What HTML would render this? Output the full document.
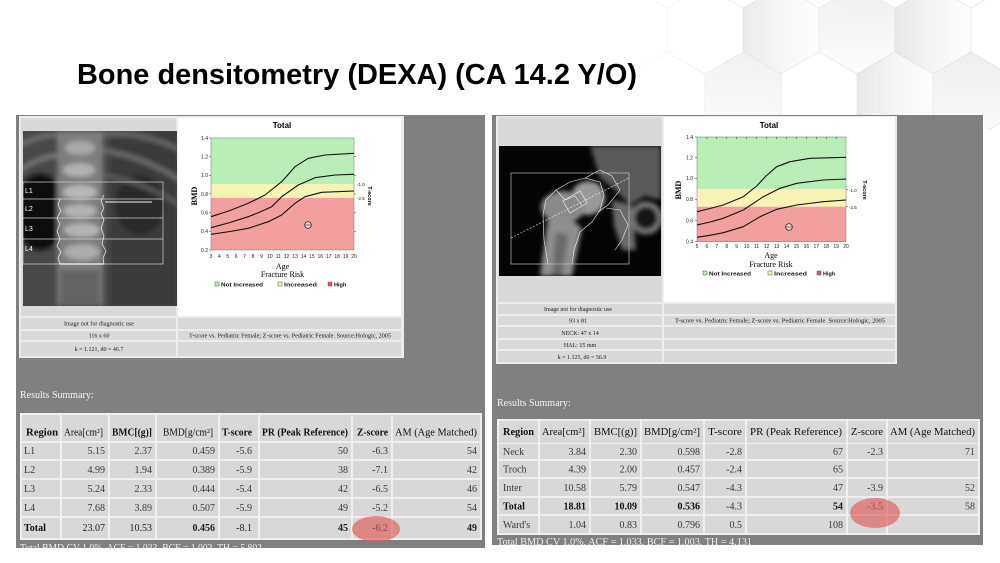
<!DOCTYPE html>
<html><head><meta charset="utf-8"><style>
html,body{margin:0;padding:0;background:#fff;}
svg{display:block;}
.s{font-family:"Liberation Serif",serif;}
.a{font-family:"Liberation Sans",sans-serif;}
</style></head><body>
<svg width="1000" height="563" viewBox="0 0 1000 563" xmlns="http://www.w3.org/2000/svg">
<defs>
<linearGradient id="fadeL" x1="0" y1="0" x2="1" y2="0">
<stop offset="0" stop-color="#fff" stop-opacity="0"/><stop offset="0.3" stop-color="#fff" stop-opacity="0.8"/><stop offset="1" stop-color="#fff" stop-opacity="1"/></linearGradient>
<mask id="hexmask"><rect x="600" y="0" width="400" height="130" fill="url(#fadeL)"/></mask>
<linearGradient id="hg1" x1="0" y1="0" x2="1" y2="0"><stop offset="0" stop-color="#e6e6e6"/><stop offset="0.5" stop-color="#f5f5f5"/><stop offset="1" stop-color="#fdfdfd"/></linearGradient>
<linearGradient id="hg2" x1="0" y1="0" x2="0" y2="1"><stop offset="0" stop-color="#eeeeee"/><stop offset="1" stop-color="#fcfcfc"/></linearGradient>
<filter id="bl" x="-10%" y="-10%" width="120%" height="120%"><feGaussianBlur stdDeviation="2.5"/></filter>
<clipPath id="spc"><rect x="23" y="131" width="154" height="175"/></clipPath>
<clipPath id="hpc"><rect x="499" y="146" width="162" height="130"/></clipPath>
<clipPath id="lgc"><rect x="16" y="115" width="469" height="433"/></clipPath>
<clipPath id="rgc"><rect x="492" y="115" width="491" height="430"/></clipPath>
</defs>

<!-- background hexagons -->
<g mask="url(#hexmask)">
<polygon points="743,8 781,-14 819,8 819,52 781,74 743,52" fill="url(#hg1)"/>
<polygon points="895,8 933,-14 971,8 971,52 933,74 895,52" fill="url(#hg1)"/>
<polygon points="819,8 857,-14 895,8 895,52 857,74 819,52" fill="url(#hg2)"/>
<polygon points="705,74 743,52 781,74 781,118 743,140 705,118" fill="url(#hg2)"/>
<polygon points="857,74 895,52 933,74 933,118 895,140 857,118" fill="url(#hg1)"/>
<polygon points="933,74 971,52 1009,74 1009,118 971,140 933,118" fill="url(#hg2)"/>
<g fill="none" stroke="#dcdcdc" stroke-width="0.6">
<path d="M629,-14 L667,8 L705,-14 L743,8 L781,-14 L819,8 L857,-14 L895,8 L933,-14 L971,8 L1009,-14"/>
<path d="M629,74 L667,52 L705,74 L743,52 L781,74 L819,52 L857,74 L895,52 L933,74 L971,52 L1009,74"/>
<path d="M629,118 L667,140 L705,118 L743,140 L781,118 L819,140 L857,118 L895,140 L933,118 L971,140 L1009,118"/>
<path d="M667,8V52 M743,8V52 M819,8V52 M895,8V52 M971,8V52"/>
<path d="M705,74V118 M781,74V118 M857,74V118 M933,74V118"/>
</g>
</g>

<!-- Title -->
<text x="77" y="84" class="a" font-size="29" font-weight="bold" fill="#000" textLength="560" lengthAdjust="spacingAndGlyphs">Bone densitometry (DEXA) (CA 14.2 Y/O)</text>

<!-- ================= LEFT PANEL ================= -->
<rect x="16" y="115" width="469" height="433" fill="#808080"/>
<rect x="19" y="116" width="385" height="242" fill="#ececec"/>
<rect x="21" y="118" width="155" height="198" fill="#d9d9d9"/>
<rect x="178" y="118" width="223" height="198" fill="#ffffff"/>
<rect x="21" y="318" width="155" height="11" fill="#d9d9d9"/>
<rect x="178" y="318" width="223" height="11" fill="#d9d9d9"/>
<rect x="21" y="331" width="155" height="9" fill="#d9d9d9"/>
<rect x="178" y="331" width="223" height="9" fill="#d9d9d9"/>
<rect x="21" y="342" width="155" height="14" fill="#d9d9d9"/>
<rect x="178" y="342" width="223" height="14" fill="#d9d9d9"/>

<!-- spine image -->
<g clip-path="url(#spc)">
<rect x="23" y="131" width="154" height="175" fill="#484848"/>
<g filter="url(#bl)">
<rect x="110" y="131" width="67" height="175" fill="#3a3a3a"/>
<ellipse cx="40" cy="212" rx="26" ry="38" fill="#101010"/>
<ellipse cx="140" cy="205" rx="25" ry="30" fill="#2c2c2c"/>
<path d="M20,170 Q50,150 70,158" stroke="#777" stroke-width="5" fill="none"/>
<path d="M20,145 Q50,130 70,138" stroke="#6e6e6e" stroke-width="5" fill="none"/>
<path d="M100,150 Q140,155 180,180" stroke="#6a6a6a" stroke-width="5" fill="none"/>
<path d="M100,175 Q140,180 180,205" stroke="#5e5e5e" stroke-width="4" fill="none"/>
<path d="M100,135 Q140,130 180,150" stroke="#666" stroke-width="5" fill="none"/>
<rect x="57" y="131" width="46" height="175" fill="#7e7e7e"/>
<ellipse cx="80" cy="148" rx="15" ry="7" fill="#a8a8a8"/>
<ellipse cx="79" cy="170" rx="16" ry="7" fill="#b0b0b0"/>
<ellipse cx="80" cy="192" rx="17" ry="7" fill="#b8b8b8"/>
<ellipse cx="80" cy="211" rx="17" ry="7" fill="#b0b0b0"/>
<ellipse cx="82" cy="230" rx="18" ry="7" fill="#b4b4b4"/>
<ellipse cx="82" cy="252" rx="18" ry="8" fill="#acacac"/>
<ellipse cx="84" cy="280" rx="15" ry="9" fill="#909090"/>
<rect x="60" y="270" width="40" height="36" fill="#646464"/>
</g>
<g fill="none" stroke="#d0d0d0" stroke-width="0.7">
<rect x="23" y="182" width="140" height="82"/>
<line x1="23" y1="199" x2="163" y2="199"/>
<line x1="23" y1="218" x2="163" y2="218"/>
<line x1="23" y1="239" x2="163" y2="239"/>
</g>
<g fill="none" stroke="#f4f4f4" stroke-width="0.7">
<path d="M60,199 L58,205 L61,211 L57,218 L60,224 L57,231 L60,239 L57,246 L61,252 L58,258 L60,264"/>
<path d="M104,195 L101,201 L104,208 L101,214 L104,220 L101,228 L104,236 L102,244 L106,251 L103,258 L104,264"/>
<line x1="105" y1="202" x2="152" y2="202" stroke-width="0.9"/>
<line x1="60" y1="264" x2="104" y2="264" stroke-width="1.2"/>
</g>
<g class="a" font-size="7" fill="#fff">
<text x="25" y="193">L1</text><text x="25" y="211">L2</text><text x="25" y="231">L3</text><text x="25" y="251">L4</text>
</g>
</g>

<!-- left chart -->
<text x="282" y="128" class="a" font-size="8" font-weight="bold" text-anchor="middle">Total</text>
<rect x="211" y="138" width="143" height="46" fill="#b9efb6"/>
<rect x="211" y="184" width="143" height="14" fill="#f6f3b4"/>
<rect x="211" y="198" width="143" height="52" fill="#f2a09f"/>
<rect x="211" y="138" width="143" height="112" fill="none" stroke="#777" stroke-width="0.5"/>
<g stroke="#333" stroke-width="0.5">
<path d="M209,138H211 M209,156.7H211 M209,175.3H211 M209,194H211 M209,212.7H211 M209,231.3H211 M209,250H211"/>
<path d="M354,156.7H356 M354,175.3H356 M354,194H356 M354,212.7H356 M354,231.3H356"/>
</g>
<g class="a" font-size="5" fill="#222" text-anchor="end">
<text x="208" y="140">1.4</text><text x="208" y="158.5">1.2</text><text x="208" y="177">1.0</text><text x="208" y="196">0.8</text><text x="208" y="214.5">0.6</text><text x="208" y="233">0.4</text><text x="208" y="252">0.2</text>
</g>
<g class="a" font-size="5" fill="#222" text-anchor="middle">
<text x="211" y="258">3</text><text x="219.4" y="258">4</text><text x="227.8" y="258">5</text><text x="236.2" y="258">6</text><text x="244.6" y="258">7</text><text x="253" y="258">8</text><text x="261.5" y="258">9</text><text x="269.9" y="258">10</text><text x="278.3" y="258">11</text><text x="286.7" y="258">12</text><text x="295.1" y="258">13</text><text x="303.5" y="258">14</text><text x="311.9" y="258">15</text><text x="320.3" y="258">16</text><text x="328.7" y="258">17</text><text x="337.2" y="258">18</text><text x="345.6" y="258">19</text><text x="354" y="258">20</text>
</g>
<g fill="none" stroke="#111" stroke-width="1.1" stroke-linejoin="round">
<polyline points="211,216.7 230,210.5 248.3,203.3 265,195 281.7,181.7 295,166.7 308.3,158.3 325,155 354,153.3"/>
<polyline points="211,227.7 230,222.5 248.3,216.7 260,212 271.7,206.7 281.7,196.7 298.3,185 315,177.7 335,175 354,174.3"/>
<polyline points="211,234.3 230,231.5 248.3,228.3 268.3,221.7 281.7,215 295,203.3 305,196.7 321.7,192.3 354,191"/>
</g>
<circle cx="308" cy="225" r="3.3" fill="#f6d4d4" stroke="#111" stroke-width="0.7"/>
<line x1="304.7" y1="225" x2="311.3" y2="225" stroke="#111" stroke-width="0.5"/>
<text transform="translate(197,196) rotate(-90)" class="s" font-size="8" font-weight="bold" text-anchor="middle">BMD</text>
<text transform="translate(368,196) rotate(90)" class="a" font-size="5.5" font-weight="bold" text-anchor="middle">T-score</text>
<text x="357" y="186" class="a" font-size="4.5" fill="#222">-1.0</text>
<text x="357" y="200" class="a" font-size="4.5" fill="#222">-2.5</text>
<text x="282.5" y="269" class="s" font-size="8" text-anchor="middle">Age</text>
<text x="282.5" y="277" class="s" font-size="8" text-anchor="middle">Fracture Risk</text>
<g class="a" font-size="5.5" font-weight="bold" fill="#111">
<rect x="215" y="282" width="4" height="4" fill="#b9efb6" stroke="#333" stroke-width="0.4"/><text x="221" y="286.5" textLength="42" lengthAdjust="spacingAndGlyphs">Not Increased</text>
<rect x="278" y="282" width="4" height="4" fill="#f6f3b4" stroke="#333" stroke-width="0.4"/><text x="284" y="286.5" textLength="33" lengthAdjust="spacingAndGlyphs">Increased</text>
<rect x="328" y="282" width="4" height="4" fill="#e06060" stroke="#333" stroke-width="0.4"/><text x="334" y="286.5">High</text>
</g>

<!-- left info rows -->
<g class="s" font-size="6" fill="#222" text-anchor="middle">
<text x="99" y="325.5" textLength="70" lengthAdjust="spacingAndGlyphs">Image not for diagnostic use</text>
<text x="99" y="337.5">116 x 60</text>
<text x="99" y="351">k = 1.121, d0 = 46.7</text>
<text x="290" y="337.5" textLength="202" lengthAdjust="spacingAndGlyphs">T-score vs. Pediatric Female; Z-score vs. Pediatric Female. Source:Hologic, 2005</text>
</g>

<text x="20" y="398" class="s" font-size="10" fill="#f4f4f4">Results Summary:</text>

<!-- left table -->
<rect x="20" y="413" width="462" height="127" fill="#efefef"/>
<g fill="#d8d8d8">
<rect x="22" y="415" width="38" height="26"/><rect x="62" y="415" width="46" height="26"/><rect x="110" y="415" width="45" height="26"/><rect x="157" y="415" width="61" height="26"/><rect x="220" y="415" width="38" height="26"/><rect x="260" y="415" width="91" height="26"/><rect x="353" y="415" width="38" height="26"/><rect x="393" y="415" width="87" height="26"/>
<rect x="22" y="443" width="38" height="16"/><rect x="62" y="443" width="46" height="16"/><rect x="110" y="443" width="45" height="16"/><rect x="157" y="443" width="61" height="16"/><rect x="220" y="443" width="38" height="16"/><rect x="260" y="443" width="91" height="16"/><rect x="353" y="443" width="38" height="16"/><rect x="393" y="443" width="87" height="16"/>
<rect x="22" y="461" width="38" height="17"/><rect x="62" y="461" width="46" height="17"/><rect x="110" y="461" width="45" height="17"/><rect x="157" y="461" width="61" height="17"/><rect x="220" y="461" width="38" height="17"/><rect x="260" y="461" width="91" height="17"/><rect x="353" y="461" width="38" height="17"/><rect x="393" y="461" width="87" height="17"/>
<rect x="22" y="480" width="38" height="17"/><rect x="62" y="480" width="46" height="17"/><rect x="110" y="480" width="45" height="17"/><rect x="157" y="480" width="61" height="17"/><rect x="220" y="480" width="38" height="17"/><rect x="260" y="480" width="91" height="17"/><rect x="353" y="480" width="38" height="17"/><rect x="393" y="480" width="87" height="17"/>
<rect x="22" y="499" width="38" height="17"/><rect x="62" y="499" width="46" height="17"/><rect x="110" y="499" width="45" height="17"/><rect x="157" y="499" width="61" height="17"/><rect x="220" y="499" width="38" height="17"/><rect x="260" y="499" width="91" height="17"/><rect x="353" y="499" width="38" height="17"/><rect x="393" y="499" width="87" height="17"/>
<rect x="22" y="518" width="38" height="20"/><rect x="62" y="518" width="46" height="20"/><rect x="110" y="518" width="45" height="20"/><rect x="157" y="518" width="61" height="20"/><rect x="220" y="518" width="38" height="20"/><rect x="260" y="518" width="91" height="20"/><rect x="353" y="518" width="38" height="20"/><rect x="393" y="518" width="87" height="20"/>
</g>
<g class="s" font-size="10" fill="#111">
<text x="26" y="435.5" font-weight="bold" textLength="32" lengthAdjust="spacingAndGlyphs">Region</text>
<text x="64" y="435.5" textLength="39" lengthAdjust="spacingAndGlyphs">Area[cm²]</text>
<text x="112" y="435.5" font-weight="bold" textLength="40" lengthAdjust="spacingAndGlyphs">BMC[(g)]</text>
<text x="163" y="435.5" textLength="50" lengthAdjust="spacingAndGlyphs">BMD[g/cm²]</text>
<text x="222" y="435.5" font-weight="bold" textLength="30" lengthAdjust="spacingAndGlyphs">T-score</text>
<text x="262" y="435.5" font-weight="bold" textLength="86" lengthAdjust="spacingAndGlyphs">PR (Peak Reference)</text>
<text x="357" y="435.5" font-weight="bold" textLength="31" lengthAdjust="spacingAndGlyphs">Z-score</text>
<text x="395" y="435.5" textLength="82" lengthAdjust="spacingAndGlyphs">AM (Age Matched)</text>
</g>
<g class="s" font-size="10" fill="#3a3a3a">
<text x="24" y="454">L1</text><text x="24" y="473">L2</text><text x="24" y="492">L3</text><text x="24" y="511">L4</text>
<text x="24" y="531" font-weight="bold" fill="#111">Total</text>
</g>
<g class="s" font-size="10" fill="#3a3a3a" text-anchor="end">
<text x="105" y="454">5.15</text><text x="152" y="454">2.37</text><text x="215" y="454">0.459</text><text x="252" y="454">-5.6</text><text x="348" y="454">50</text><text x="388" y="454">-6.3</text><text x="477" y="454">54</text>
<text x="105" y="473">4.99</text><text x="152" y="473">1.94</text><text x="215" y="473">0.389</text><text x="252" y="473">-5.9</text><text x="348" y="473">38</text><text x="388" y="473">-7.1</text><text x="477" y="473">42</text>
<text x="105" y="492">5.24</text><text x="152" y="492">2.33</text><text x="215" y="492">0.444</text><text x="252" y="492">-5.4</text><text x="348" y="492">42</text><text x="388" y="492">-6.5</text><text x="477" y="492">46</text>
<text x="105" y="511">7.68</text><text x="152" y="511">3.89</text><text x="215" y="511">0.507</text><text x="252" y="511">-5.9</text><text x="348" y="511">49</text><text x="388" y="511">-5.2</text><text x="477" y="511">54</text>
</g>
<g class="s" font-size="10" fill="#222" text-anchor="end">
<text x="105" y="531">23.07</text><text x="152" y="531">10.53</text><text x="215" y="531" font-weight="bold">0.456</text><text x="252" y="531">-8.1</text><text x="348" y="531" font-weight="bold">45</text><text x="388" y="531">-6.2</text><text x="477" y="531" font-weight="bold">49</text>
</g>
<ellipse cx="376" cy="529" rx="24" ry="13" fill="#e05a5a" fill-opacity="0.65"/>
<g clip-path="url(#lgc)">
<text x="20" y="551" class="s" font-size="10" fill="#f0f0f0" textLength="242" lengthAdjust="spacingAndGlyphs">Total BMD CV 1.0%, ACF = 1.033, BCF = 1.003, TH = 5.802</text>
</g>

<!-- ================= RIGHT PANEL ================= -->
<rect x="492" y="115" width="491" height="430" fill="#808080"/>
<rect x="496" y="116" width="401" height="248" fill="#ececec"/>
<rect x="498" y="117" width="164" height="185" fill="#d9d9d9"/>
<rect x="664" y="117" width="231" height="185" fill="#ffffff"/>
<rect x="498" y="304" width="164" height="10" fill="#d9d9d9"/><rect x="664" y="304" width="231" height="10" fill="#d9d9d9"/>
<rect x="498" y="316" width="164" height="9" fill="#d9d9d9"/><rect x="664" y="316" width="231" height="9" fill="#d9d9d9"/>
<rect x="498" y="327" width="164" height="11" fill="#d9d9d9"/><rect x="664" y="327" width="231" height="11" fill="#d9d9d9"/>
<rect x="498" y="340" width="164" height="9" fill="#d9d9d9"/><rect x="664" y="340" width="231" height="9" fill="#d9d9d9"/>
<rect x="498" y="351" width="164" height="11" fill="#d9d9d9"/><rect x="664" y="351" width="231" height="11" fill="#d9d9d9"/>

<!-- hip image -->
<g clip-path="url(#hpc)">
<rect x="499" y="146" width="162" height="130" fill="#040404"/>
<g filter="url(#bl)">
<path d="M590,146 L661,146 L661,200 L645,196 L630,205 L615,190 L600,178 Z" fill="#5a5a5a"/>
<path d="M612,200 L632,205 L636,250 L622,250 L614,225 Z" fill="#6a6a6a"/>
<circle cx="646" cy="218" r="14" fill="#141414" stroke="#7a7a7a" stroke-width="5"/>
<circle cx="588" cy="198" r="17" fill="#9a9a9a"/>
<ellipse cx="563" cy="207" rx="22" ry="16" fill="#8a8a8a"/>
<path d="M540,276 L572,276 L582,228 L562,212 L548,218 Z" fill="#8e8e8e"/>
<path d="M552,276 L562,276 L568,235 L556,232 Z" fill="#6a6a6a"/>
</g>
<g fill="none" stroke="#eee" stroke-width="0.6">
<path d="M548,264 L544,240 L543,215 L546,200 L556,190 L570,182 L585,178 L600,182 L604,195 L600,210 L592,222 L580,232 L574,250 L572,264"/>
<path d="M585,178 L600,170 L612,176 L620,190 L608,205 L598,212"/>
<path d="M606,208 L620,210 L628,225 L622,240 L615,250"/>
<path d="M556,190 L565,200 L575,196 L582,206"/>
</g>
<rect x="511" y="173" width="118" height="91" fill="none" stroke="#bbb" stroke-width="0.7"/>
<line x1="511" y1="238" x2="629" y2="178" stroke="#eee" stroke-width="0.6" stroke-dasharray="2,1.5"/>
<rect x="565" y="195" width="20" height="14" fill="none" stroke="#eee" stroke-width="0.6" transform="rotate(-30 575 202)"/>
</g>

<!-- right chart -->
<text x="769" y="128" class="a" font-size="8" font-weight="bold" text-anchor="middle">Total</text>
<rect x="697" y="137" width="149" height="52.3" fill="#b9efb6"/>
<rect x="697" y="189.3" width="149" height="17.4" fill="#f6f3b4"/>
<rect x="697" y="206.7" width="149" height="35" fill="#f2a09f"/>
<rect x="697" y="137" width="149" height="104.7" fill="none" stroke="#777" stroke-width="0.5"/>
<g stroke="#333" stroke-width="0.5">
<path d="M695,137H697 M695,157.7H697 M695,178.3H697 M695,199.3H697 M695,220.7H697 M695,241.7H697"/>
<path d="M706.9,137V139 M716.8,137V139 M726.8,137V139 M736.7,137V139 M746.7,137V139 M756.6,137V139 M766.6,137V139 M776.5,137V139 M786.5,137V139 M796.4,137V139 M806.4,137V139 M816.3,137V139 M826.3,137V139 M836.2,137V139"/>
<path d="M846,189.3H848 M846,206.7H848"/>
</g>
<g class="a" font-size="5" fill="#222" text-anchor="end">
<text x="693" y="139">1.4</text><text x="693" y="159.5">1.2</text><text x="693" y="180">1.0</text><text x="693" y="201">0.8</text><text x="693" y="222.5">0.6</text><text x="693" y="243.5">0.4</text>
</g>
<g class="a" font-size="5" fill="#222" text-anchor="middle">
<text x="697" y="248">5</text><text x="706.9" y="248">6</text><text x="716.8" y="248">7</text><text x="726.8" y="248">8</text><text x="736.7" y="248">9</text><text x="746.7" y="248">10</text><text x="756.6" y="248">11</text><text x="766.6" y="248">12</text><text x="776.5" y="248">13</text><text x="786.5" y="248">14</text><text x="796.4" y="248">15</text><text x="806.4" y="248">16</text><text x="816.3" y="248">17</text><text x="826.3" y="248">18</text><text x="836.2" y="248">19</text><text x="846" y="248">20</text>
</g>
<g fill="none" stroke="#111" stroke-width="1.1" stroke-linejoin="round">
<polyline points="697,211.7 710,208.5 723.3,205 743.3,196.7 756.7,186 766,176 776.7,166.7 790,161.7 810,158.3 846,157.3"/>
<polyline points="697,225 710,222 723.3,218.3 743.3,210 763.3,196.7 780,188.3 796.7,183.3 823.3,180 846,179"/>
<polyline points="697,237.3 710,235.3 723.3,232.7 743.3,226.7 760,216.7 776.7,209.3 796.7,205 823.3,201.7 846,200"/>
</g>
<circle cx="789" cy="227" r="3.3" fill="#f6d4d4" stroke="#111" stroke-width="0.7"/>
<line x1="785.7" y1="227" x2="792.3" y2="227" stroke="#111" stroke-width="0.5"/>
<text transform="translate(681,190) rotate(-90)" class="s" font-size="8" font-weight="bold" text-anchor="middle">BMD</text>
<text transform="translate(863,190) rotate(90)" class="a" font-size="5.5" font-weight="bold" text-anchor="middle">T-score</text>
<text x="849" y="192" class="a" font-size="4.5" fill="#222">-1.0</text>
<text x="849" y="209" class="a" font-size="4.5" fill="#222">-2.5</text>
<text x="771" y="258" class="s" font-size="8" text-anchor="middle">Age</text>
<text x="771" y="267" class="s" font-size="8" text-anchor="middle">Fracture Risk</text>
<g class="a" font-size="5.5" font-weight="bold" fill="#111">
<rect x="703" y="271" width="4" height="4" fill="#b9efb6" stroke="#333" stroke-width="0.4"/><text x="709" y="275.5" textLength="42" lengthAdjust="spacingAndGlyphs">Not Increased</text>
<rect x="768" y="271" width="4" height="4" fill="#f6f3b4" stroke="#333" stroke-width="0.4"/><text x="774" y="275.5" textLength="33" lengthAdjust="spacingAndGlyphs">Increased</text>
<rect x="817" y="271" width="4" height="4" fill="#e06060" stroke="#333" stroke-width="0.4"/><text x="823" y="275.5">High</text>
</g>

<!-- right info rows -->
<g class="s" font-size="6" fill="#222" text-anchor="middle">
<text x="578" y="311" textLength="68" lengthAdjust="spacingAndGlyphs">Image not for diagnostic use</text>
<text x="578" y="322.5">93 x 81</text>
<text x="580" y="335">NECK: 47 x 14</text>
<text x="580" y="347">HAL: 15 mm</text>
<text x="582" y="359">k = 1.125, d0 = 56.9</text>
<text x="780" y="322.5" textLength="210" lengthAdjust="spacingAndGlyphs">T-score vs. Pediatric Female; Z-score vs. Pediatric Female. Source:Hologic, 2005</text>
</g>

<text x="497" y="406" class="s" font-size="10" fill="#f4f4f4">Results Summary:</text>

<!-- right table -->
<rect x="497" y="419" width="483" height="116" fill="#efefef"/>
<g fill="#d8d8d8">
<rect x="499" y="421" width="39" height="22"/><rect x="540" y="421" width="49" height="22"/><rect x="591" y="421" width="49" height="22"/><rect x="642" y="421" width="61" height="22"/><rect x="705" y="421" width="40" height="22"/><rect x="747" y="421" width="99" height="22"/><rect x="848" y="421" width="38" height="22"/><rect x="888" y="421" width="90" height="22"/>
<rect x="499" y="444" width="39" height="15"/><rect x="540" y="444" width="49" height="15"/><rect x="591" y="444" width="49" height="15"/><rect x="642" y="444" width="61" height="15"/><rect x="705" y="444" width="40" height="15"/><rect x="747" y="444" width="99" height="15"/><rect x="848" y="444" width="38" height="15"/><rect x="888" y="444" width="90" height="15"/>
<rect x="499" y="461" width="39" height="16"/><rect x="540" y="461" width="49" height="16"/><rect x="591" y="461" width="49" height="16"/><rect x="642" y="461" width="61" height="16"/><rect x="705" y="461" width="40" height="16"/><rect x="747" y="461" width="99" height="16"/><rect x="848" y="461" width="38" height="16"/><rect x="888" y="461" width="90" height="16"/>
<rect x="499" y="479" width="39" height="17"/><rect x="540" y="479" width="49" height="17"/><rect x="591" y="479" width="49" height="17"/><rect x="642" y="479" width="61" height="17"/><rect x="705" y="479" width="40" height="17"/><rect x="747" y="479" width="99" height="17"/><rect x="848" y="479" width="38" height="17"/><rect x="888" y="479" width="90" height="17"/>
<rect x="499" y="498" width="39" height="16"/><rect x="540" y="498" width="49" height="16"/><rect x="591" y="498" width="49" height="16"/><rect x="642" y="498" width="61" height="16"/><rect x="705" y="498" width="40" height="16"/><rect x="747" y="498" width="99" height="16"/><rect x="848" y="498" width="38" height="16"/><rect x="888" y="498" width="90" height="16"/>
<rect x="499" y="516" width="39" height="17"/><rect x="540" y="516" width="49" height="17"/><rect x="591" y="516" width="49" height="17"/><rect x="642" y="516" width="61" height="17"/><rect x="705" y="516" width="40" height="17"/><rect x="747" y="516" width="99" height="17"/><rect x="848" y="516" width="38" height="17"/><rect x="888" y="516" width="90" height="17"/>
</g>
<g class="s" font-size="10" fill="#111">
<text x="503" y="435" font-weight="bold" textLength="31" lengthAdjust="spacingAndGlyphs">Region</text>
<text x="542" y="435" textLength="43" lengthAdjust="spacingAndGlyphs">Area[cm²]</text>
<text x="594" y="435" textLength="43" lengthAdjust="spacingAndGlyphs">BMC[(g)]</text>
<text x="644" y="435" textLength="56" lengthAdjust="spacingAndGlyphs">BMD[g/cm²]</text>
<text x="708" y="435" textLength="34" lengthAdjust="spacingAndGlyphs">T-score</text>
<text x="750" y="435" textLength="92" lengthAdjust="spacingAndGlyphs">PR (Peak Reference)</text>
<text x="851" y="435" textLength="32" lengthAdjust="spacingAndGlyphs">Z-score</text>
<text x="890" y="435" textLength="85" lengthAdjust="spacingAndGlyphs">AM (Age Matched)</text>
</g>
<g class="s" font-size="10" fill="#3a3a3a">
<text x="503" y="455">Neck</text><text x="503" y="472.5">Troch</text><text x="503" y="491">Inter</text>
<text x="503" y="509.5" font-weight="bold" fill="#111">Total</text><text x="503" y="528">Ward's</text>
</g>
<g class="s" font-size="10" fill="#3a3a3a" text-anchor="end">
<text x="586" y="455">3.84</text><text x="637" y="455">2.30</text><text x="700" y="455">0.598</text><text x="742" y="455">-2.8</text><text x="843" y="455">67</text><text x="883" y="455">-2.3</text><text x="975" y="455">71</text>
<text x="586" y="472.5">4.39</text><text x="637" y="472.5">2.00</text><text x="700" y="472.5">0.457</text><text x="742" y="472.5">-2.4</text><text x="843" y="472.5">65</text>
<text x="586" y="491">10.58</text><text x="637" y="491">5.79</text><text x="700" y="491">0.547</text><text x="742" y="491">-4.3</text><text x="843" y="491">47</text><text x="883" y="491">-3.9</text><text x="975" y="491">52</text>
<text x="586" y="509.5" font-weight="bold" fill="#111">18.81</text><text x="637" y="509.5" font-weight="bold" fill="#111">10.09</text><text x="700" y="509.5" font-weight="bold" fill="#111">0.536</text><text x="742" y="509.5">-4.3</text><text x="843" y="509.5" font-weight="bold" fill="#111">54</text><text x="883" y="509.5">-3.5</text><text x="975" y="509.5">58</text>
<text x="586" y="528">1.04</text><text x="637" y="528">0.83</text><text x="700" y="528">0.796</text><text x="742" y="528">0.5</text><text x="843" y="528">108</text>
</g>
<ellipse cx="875" cy="513" rx="25" ry="15" fill="#e05a5a" fill-opacity="0.65"/>
<g clip-path="url(#rgc)">
<text x="497" y="545" class="s" font-size="10" fill="#f0f0f0" textLength="255" lengthAdjust="spacingAndGlyphs">Total BMD CV 1.0%, ACF = 1.033, BCF = 1.003, TH = 4.131</text>
</g>
</svg>
</body></html>
